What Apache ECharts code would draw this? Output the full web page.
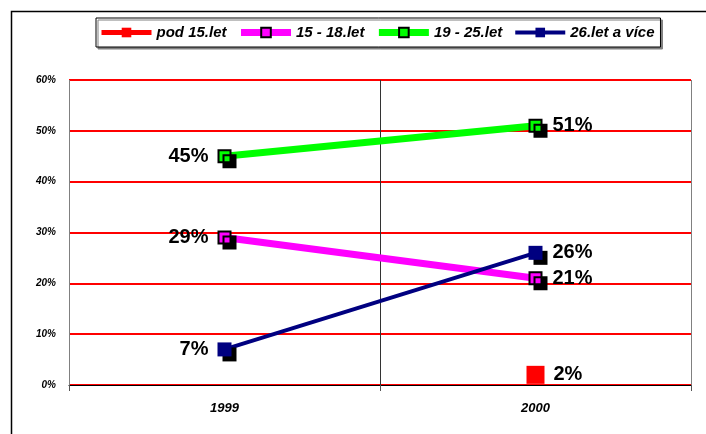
<!DOCTYPE html>
<html><head><meta charset="utf-8">
<script src="https://cdn.jsdelivr.net/npm/echarts@6/dist/echarts.min.js"></script>
<style>html,body{margin:0;padding:0;background:#fff}#c{width:706px;height:434px}</style>
</head><body><div id="c"></div>
<script>
const categories = ['1999', '2000'];
const seriesNames = ['pod 15.let', '15 - 18.let', '19 - 25.let', '26.let a více'];
const pod15 = [null, 2];
const age15to18 = [29, 21];
const age19to25 = [45, 51];
const age26plus = [7, 26];
const yTickStep = 10;
const yMax = 60;

const FONT = 'Arial, "Liberation Sans", sans-serif';
const lineWidths = [5, 7, 7, 4];

function pts(arr, dLeft, dRight) {
  return arr.map((v, i) => v == null ? '-' : ({
    value: v,
    label: { position: i === 0 ? 'left' : 'right', distance: i === 0 ? dLeft : dRight }
  }));
}

const labelStyle = {
  show: true, formatter: '{c}%', color: '#000', fontSize: 20, fontWeight: 'bold', fontFamily: FONT
};
const shadow = { shadowColor: '#000', shadowOffsetX: 5, shadowOffsetY: 5, shadowBlur: 0 };

const chart = echarts.init(document.getElementById('c'), null, { renderer: 'canvas' });
chart.setOption({
  animation: false,
  backgroundColor: '#fff',
  graphic: [{
    type: 'polyline', silent: true, z: 100,
    shape: { points: [[11.5, 434], [11.5, 11.5], [706, 11.5]] },
    style: { stroke: '#000', lineWidth: 1.5, fill: null }
  }],
  legend: {
    left: 96, top: 18,
    padding: [7, 6, 7, 3],
    itemWidth: 50, itemHeight: 12, itemGap: 11,
    backgroundColor: '#fff', borderColor: '#000', borderWidth: 1,
    shadowColor: '#808080', shadowOffsetX: 2, shadowOffsetY: 2, shadowBlur: 0,
    textStyle: { fontSize: 15, fontWeight: 'bold', fontStyle: 'italic', color: '#000', fontFamily: FONT },
    itemStyle: { shadowColor: 'rgba(0,0,0,0)', shadowOffsetX: 0, shadowOffsetY: 0, shadowBlur: 0 },
    data: seriesNames.map((n, i) => ({ name: n, lineStyle: { width: lineWidths[i] } }))
  },
  grid: { left: 69, right: 15, top: 80, bottom: 49 },
  xAxis: {
    type: 'category', data: categories, boundaryGap: true,
    axisLine: { lineStyle: { color: '#000', width: 1 } },
    axisTick: { show: true, length: 6, lineStyle: { color: '#555' } },
    splitLine: { show: true, lineStyle: { color: ['#808080', '#333', '#808080'], width: 1 } },
    axisLabel: { fontSize: 13, fontWeight: 'bold', fontStyle: 'italic', color: '#000', fontFamily: FONT, margin: 17 }
  },
  yAxis: {
    type: 'value', min: 0, max: yMax, interval: yTickStep,
    axisLine: { show: false }, axisTick: { show: false },
    splitLine: { show: true, lineStyle: { color: '#ff0000', width: 2 } },
    axisLabel: { formatter: v => v + '%', fontSize: 10, fontWeight: 'bold', fontStyle: 'italic', color: '#000', fontFamily: FONT, margin: 13 }
  },
  series: [
    {
      name: seriesNames[0], type: 'line', data: pts(pod15, 9, 9),
      symbol: 'rect', symbolSize: 18,
      lineStyle: { color: '#ff0000', width: lineWidths[0] },
      itemStyle: { color: '#ff0000' },
      label: labelStyle, emphasis: { disabled: true }, z: 5
    },
    {
      name: seriesNames[1], type: 'line', data: pts(age15to18, 9, 10),
      symbol: 'rect', symbolSize: 12,
      lineStyle: { color: '#ff00ff', width: lineWidths[1] },
      itemStyle: Object.assign({ color: '#ff00ff', borderColor: '#000', borderWidth: 2 }, shadow),
      label: labelStyle, emphasis: { disabled: true }, z: 3
    },
    {
      name: seriesNames[2], type: 'line', data: pts(age19to25, 9, 10),
      symbol: 'rect', symbolSize: 12,
      lineStyle: { color: '#00ff00', width: lineWidths[2] },
      itemStyle: Object.assign({ color: '#00ff00', borderColor: '#000', borderWidth: 2 }, shadow),
      label: labelStyle, emphasis: { disabled: true }, z: 3
    },
    {
      name: seriesNames[3], type: 'line', data: pts(age26plus, 9, 10),
      symbol: 'rect', symbolSize: 14,
      lineStyle: { color: '#000080', width: lineWidths[3] },
      itemStyle: Object.assign({ color: '#000080' }, shadow),
      label: labelStyle, emphasis: { disabled: true }, z: 4
    }
  ]
});
</script></body></html>
